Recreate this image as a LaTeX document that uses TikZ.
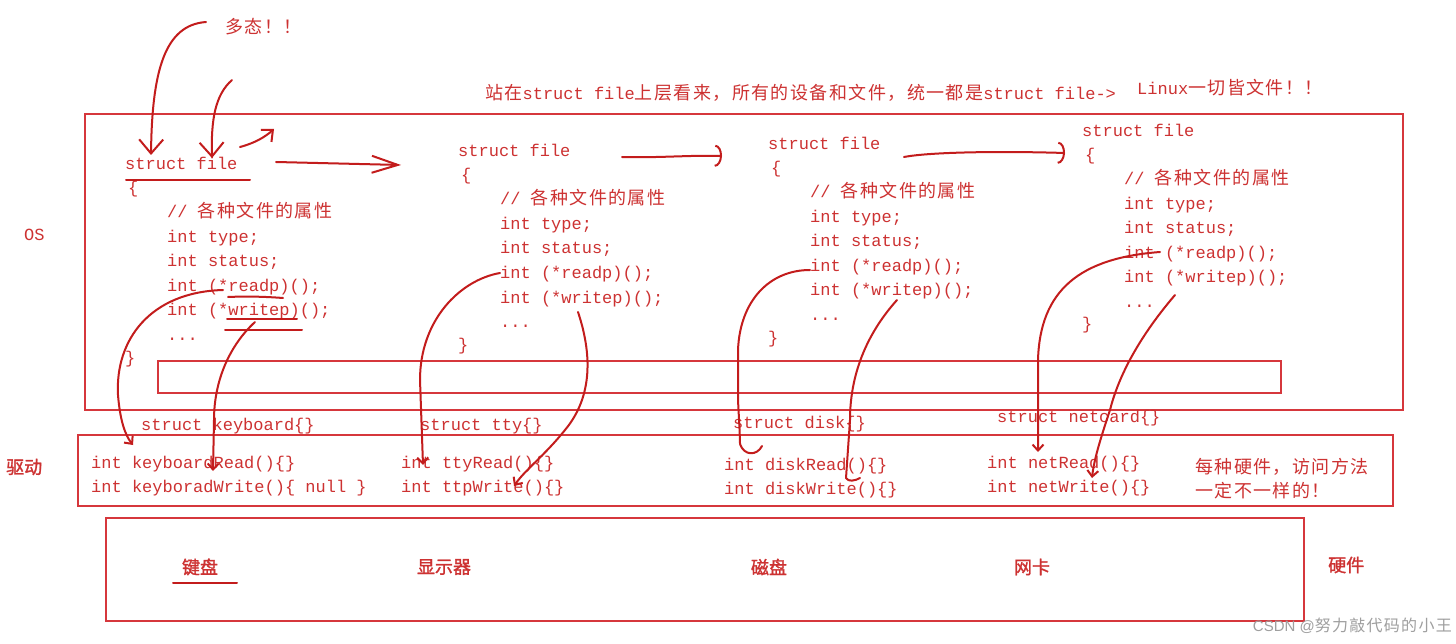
\documentclass[tikz,border=0pt]{standalone}
\usepackage{fontspec}
\setmonofont{Liberation Mono}
\setsansfont{Liberation Sans}
\newfontfamily\cjk[LetterSpace=8]{Noto Sans CJK SC}
\newfontfamily\cjkb[FakeBold=1.5]{Noto Sans CJK SC}
\usetikzlibrary{arrows.meta}
\definecolor{txt}{RGB}{205,50,50}
\definecolor{boxc}{RGB}{214,55,60}
\definecolor{penc}{RGB}{195,28,28}
\newcommand\zhtext[1]{{\cjk\fontsize{18}{20}\selectfont #1}}
\tikzset{
  code/.style={anchor=west, inner sep=0pt, text height=16pt, text depth=2pt,
    font=\ttfamily\fontsize{17}{20}\selectfont, text=txt},
  zh/.style={anchor=west, inner sep=0pt, text height=16pt, text depth=2pt,
    font=\cjk\fontsize{18}{20}\selectfont, text=txt},
  zhb/.style={inner sep=0pt, font=\cjkb\fontsize{18}{20}\selectfont, text=txt},
  frame/.style={draw=boxc, line width=1.8pt},
  pen/.style={draw=penc, line width=2pt, line cap=round, line join=round},
  bigbarb/.style={-{Straight Barb[length=14pt,width=24pt]}},
  smallbarb/.style={-{Straight Barb[length=6pt,width=11pt]}},
  arcbarb/.style={-{Arc Barb[length=7pt,width=22pt]}},
}
\newcommand\fileblock[3]{%
  \node[code] (#1h) at (#2,#3) {struct file};
  \node[code] (#1o) at (#2+3,#3+24) {\{};
  \node[code] (#1c) at (#2+42,#3+48) {// \zhtext{各种文件的属性}};
  \node[code] (#1t) at (#2+42,#3+73) {int type;};
  \node[code] (#1s) at (#2+42,#3+97) {int status;};
  \node[code] (#1r) at (#2+42,#3+122) {int (*readp)();};
  \node[code] (#1w) at (#2+42,#3+146) {int (*writep)();};
  \node[code] (#1d) at (#2+42,#3+170) {...};
  \node[code] (#1e) at (#2,#3+193) {\}};
}
\begin{document}
\begin{tikzpicture}[x=1pt,y=-1pt]
\useasboundingbox[fill=white] (0,0) rectangle (1456,644);

% ---------- boxes ----------
\draw[frame] (85,114) rectangle (1403,410);
\draw[frame] (158,361) rectangle (1281,393);
\draw[frame] (78,435) rectangle (1393,506);
\draw[frame] (106,518) rectangle (1304,621);

% ---------- titles ----------
\node[zh] (poly) at (225,27) {多态！！};
\node[code] (title) at (485,93) {\zhtext{站在}struct file\zhtext{上层看来，所有的设备和文件，统一都是}struct file->};
\node[code] (linux) at (1137,88) {Linux\zhtext{一切皆文件！！}};

\node[code, font=\ttfamily\fontsize{17}{18}\selectfont] (os) at (24,234) {OS};
\node[zhb, anchor=west] (drv) at (6,467) {驱动};
\node[zhb, anchor=west] (hwl) at (1328,565) {硬件};

% ---------- struct file blocks ----------
\fileblock{a}{125}{163}
\fileblock{b}{458}{150}
\fileblock{c}{768}{143}
\fileblock{d}{1082}{130}

% ---------- driver ----------
\node[code] (ks) at (141,423) {struct keyboard\{\}};
\node[code] (kr) at (91,461) {int keyboardRead()\{\}};
\node[code] (kw) at (91,485) {int keyboradWrite()\{ null \}};
\node[code] (ts) at (420,423) {struct tty\{\}};
\node[code] (tr) at (401,461) {int ttyRead()\{\}};
\node[code] (tw) at (401,485) {int ttpWrite()\{\}};
\node[code] (ds) at (733,421) {struct disk\{\}};
\node[code] (dr) at (724,463) {int diskRead()\{\}};
\node[code] (dw) at (724,487) {int diskWrite()\{\}};
\node[code] (ns) at (997,415) {struct netcard\{\}};
\node[code] (nr) at (987,461) {int netRead()\{\}};
\node[code] (nw) at (987,485) {int netWrite()\{\}};
\node[zh] (note1) at (1195,466) {每种硬件，访问方法};
\node[zh] (note2) at (1195,490) {一定不一样的！};

% ---------- hardware ----------
\node[zhb] (kb) at (200,567) {键盘};
\node[zhb] (disp) at (444,567) {显示器};
\node[zhb] (disk) at (769,567) {磁盘};
\node[zhb] (net) at (1032,567) {网卡};
\draw[pen] (173,583) -- (237,583);

\node[anchor=east, inner sep=0pt, text=gray!75, font=\sffamily\fontsize{15}{17}\selectfont] (wm) at (1452,626) {CSDN @{\cjk\fontsize{16}{17}\selectfont 努力敲代码的小王}};

% ---------- hand-drawn marks ----------
\draw[pen] (126,180) -- (250,180);
\draw[pen] (228,297) .. controls (250,296) and (270,297) .. (283,298);
\draw[pen] (227,319) -- (297,319);
\draw[pen] (225,330) -- (302,330);

% polymorphism arrows
\coordinate (p1) at (206,22);
\coordinate (p1e) at (151,155);
\draw[pen, bigbarb] (p1) .. controls (165,25) and (152,70) .. (p1e);
\coordinate (p2) at (232,80);
\coordinate (p2e) at (212,158);
\draw[pen, bigbarb] (p2) .. controls (215,95) and (211,120) .. (p2e);
\coordinate (p3) at (240,147);
\coordinate (p3e) at (274,129);
\draw[pen, -{Straight Barb[length=9pt,width=16pt]}] (p3) .. controls (255,143) and (265,137) .. (p3e);

% horizontal arrows between struct files
\coordinate (h1) at (276,162);
\coordinate (h1e) at (401,165);
\draw[pen, -{Straight Barb[length=26pt,width=17pt]}] (h1) -- (h1e);
\coordinate (h2) at (622,157);
\coordinate (h2e) at (722,156);
\draw[pen, arcbarb] (h2) .. controls (660,158) and (690,155) .. (h2e);
\coordinate (h3) at (904,157);
\coordinate (h3e) at (1065,153);
\draw[pen, arcbarb] (h3) .. controls (930,152) and (1000,151) .. (h3e);

% struct file -> driver functions
\path (ar.west) ++(56,5) coordinate (a1);
\draw[pen, smallbarb] (a1) .. controls (150,292) and (115,340) .. (118,395)
       .. controls (120,420) and (125,435) .. (133,445);
\coordinate (a2) at (255,322);
\draw[pen, smallbarb] (a2) .. controls (230,345) and (214,380) .. (214,420) -- (213,471);

\coordinate (b1) at (500,273);
\draw[pen, smallbarb] (b1) .. controls (460,280) and (420,320) .. (420,380) -- (423,465);
\coordinate (b2) at (578,312);
\draw[pen, smallbarb] (b2) .. controls (594,360) and (590,400) .. (565,430)
       .. controls (545,455) and (525,470) .. (514,486);

\coordinate (c1) at (810,270);
\draw[pen] (c1) .. controls (770,270) and (740,300) .. (738,350) -- (738,400)
       .. controls (739,420) and (740,435) .. (740,444)
       .. controls (744,456) and (757,456) .. (762,446);
\coordinate (c2) at (897,300);
\draw[pen] (c2) .. controls (870,330) and (850,370) .. (850,420) -- (846,478)
       .. controls (848,482) and (855,481) .. (860,478);

\coordinate (d1) at (1160,252);
\draw[pen, smallbarb] (d1) .. controls (1080,258) and (1040,290) .. (1038,360) -- (1038,452);
\coordinate (d2) at (1175,295);
\draw[pen, smallbarb] (d2) .. controls (1145,330) and (1120,370) .. (1110,410)
       .. controls (1100,440) and (1094,460) .. (1092,478);
\end{tikzpicture}
\end{document}
